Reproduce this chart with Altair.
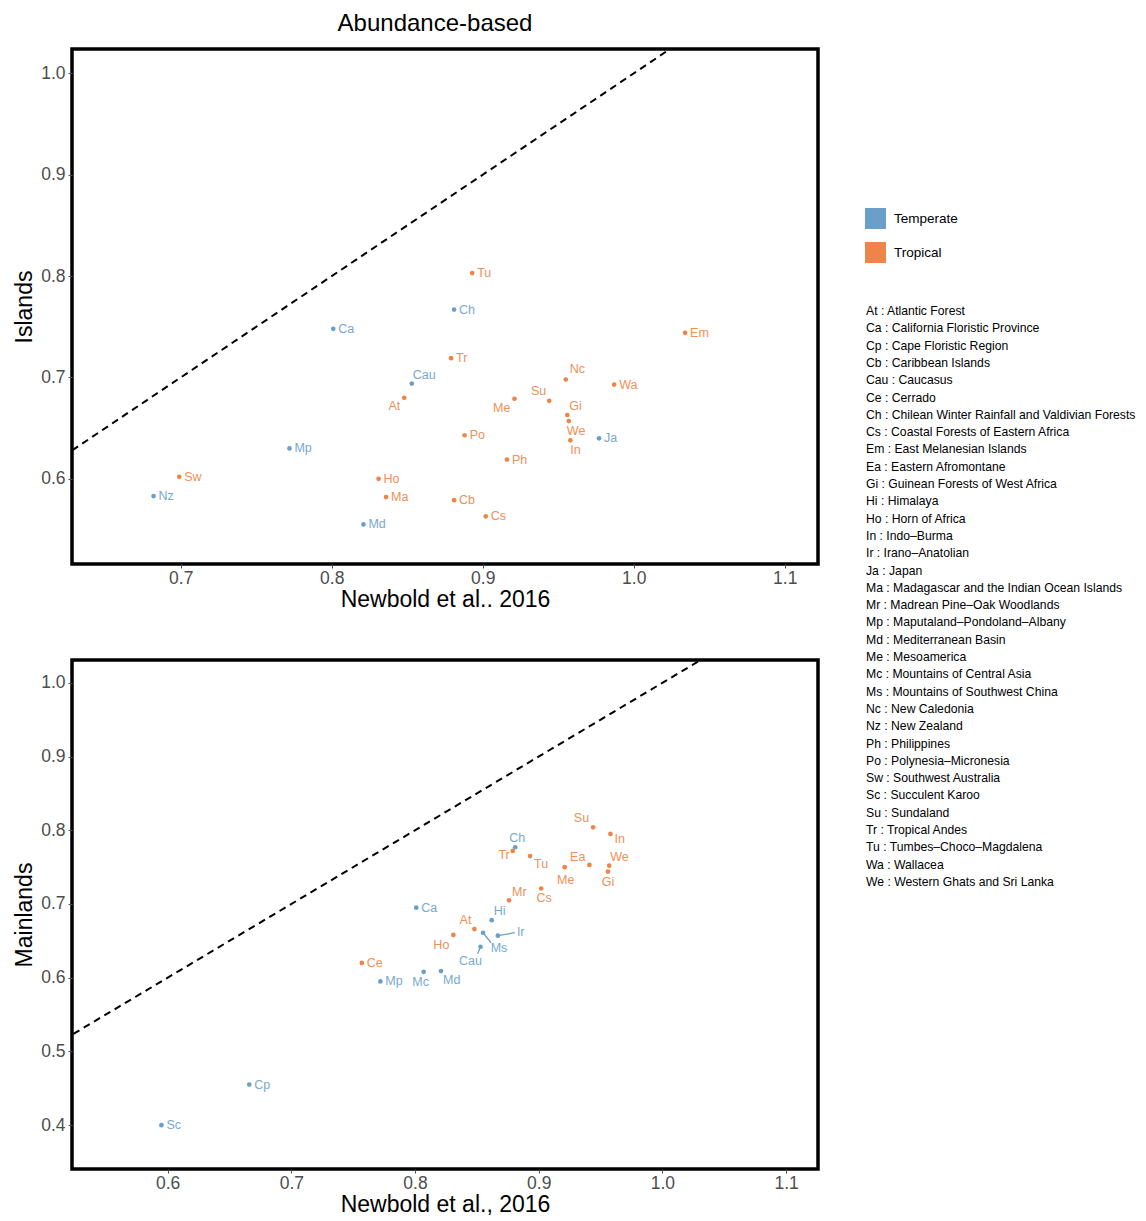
import altair as alt
import pandas as pd

FONT = "Liberation Sans"
BLUE = "#6a9fca"
ORANGE = "#ee8447"

# ---------------- data: Islands (top panel) ----------------
isl_region = ["Tu", "Ch", "Ca", "Tr", "Cau", "At", "Em", "Nc", "Wa", "Me", "Su", "Gi", "We",
              "In", "Ja", "Po", "Ph", "Mp", "Sw", "Nz", "Ho", "Ma", "Cb", "Cs", "Md"]
isl_newbold = [0.893, 0.881, 0.801, 0.879, 0.853, 0.848, 1.034, 0.955, 0.987, 0.921, 0.944, 0.956, 0.957,
               0.958, 0.977, 0.888, 0.916, 0.772, 0.699, 0.682, 0.831, 0.836, 0.881, 0.902, 0.821]
isl_value = [0.803, 0.767, 0.748, 0.719, 0.694, 0.680, 0.744, 0.698, 0.693, 0.679, 0.677, 0.663, 0.657,
             0.638, 0.640, 0.643, 0.619, 0.630, 0.602, 0.583, 0.600, 0.582, 0.579, 0.563, 0.555]
isl_zone = ["Tropical", "Temperate", "Temperate", "Tropical", "Temperate", "Tropical", "Tropical",
            "Tropical", "Tropical", "Tropical", "Tropical", "Tropical", "Tropical", "Tropical",
            "Temperate", "Tropical", "Tropical", "Temperate", "Tropical", "Temperate", "Tropical",
            "Tropical", "Tropical", "Tropical", "Temperate"]

# ---------------- data: Mainlands (bottom panel) ----------------
main_region = ["Sc", "Cp", "Ce", "Mp", "Ca", "Mc", "Md", "Ho", "At", "Hi", "Mr", "Cs", "Ch", "Tr",
               "Tu", "Me", "Ea", "Su", "In", "We", "Gi", "Ms", "Ir", "Cau"]
main_newbold = [0.595, 0.666, 0.757, 0.772, 0.801, 0.807, 0.821, 0.831, 0.848, 0.862, 0.876, 0.902,
                0.881, 0.879, 0.893, 0.921, 0.941, 0.944, 0.958, 0.957, 0.956, 0.855, 0.867, 0.853]
main_value = [0.400, 0.455, 0.620, 0.595, 0.695, 0.608, 0.609, 0.658, 0.666, 0.678, 0.705, 0.721,
              0.777, 0.772, 0.765, 0.750, 0.753, 0.804, 0.795, 0.752, 0.744, 0.661, 0.657, 0.642]
main_zone = ["Temperate", "Temperate", "Tropical", "Temperate", "Temperate", "Temperate", "Temperate",
             "Tropical", "Tropical", "Temperate", "Tropical", "Tropical", "Temperate", "Tropical",
             "Tropical", "Tropical", "Tropical", "Tropical", "Tropical", "Tropical", "Tropical",
             "Temperate", "Temperate", "Temperate"]

# ---------------- abbreviation list ----------------
abbrev_list = [
    "At : Atlantic Forest", "Ca : California Floristic Province", "Cp : Cape Floristic Region",
    "Cb : Caribbean Islands", "Cau : Caucasus", "Ce : Cerrado",
    "Ch : Chilean Winter Rainfall and Valdivian Forests", "Cs : Coastal Forests of Eastern Africa",
    "Em : East Melanesian Islands", "Ea : Eastern Afromontane", "Gi : Guinean Forests of West Africa",
    "Hi : Himalaya", "Ho : Horn of Africa", "In : Indo\u2013Burma", "Ir : Irano\u2013Anatolian",
    "Ja : Japan", "Ma : Madagascar and the Indian Ocean Islands",
    "Mr : Madrean Pine\u2013Oak Woodlands", "Mp : Maputaland\u2013Pondoland\u2013Albany",
    "Md : Mediterranean Basin", "Me : Mesoamerica", "Mc : Mountains of Central Asia",
    "Ms : Mountains of Southwest China", "Nc : New Caledonia", "Nz : New Zealand",
    "Ph : Philippines", "Po : Polynesia\u2013Micronesia", "Sw : Southwest Australia",
    "Sc : Succulent Karoo", "Su : Sundaland", "Tr : Tropical Andes",
    "Tu : Tumbes\u2013Choco\u2013Magdalena", "Wa : Wallacea", "We : Western Ghats and Sri Lanka",
]

# ---------------- label placement (pixel nudges, styling only) ----------------
# (dx, dy, align, leader_dx, leader_dy)
DEFAULT_NUDGE = (5, 0, "left", None, None)
isl_nudge = {
    "Cau": (1, -9, "left", None, None),
    "At": (-4, 8, "right", None, None),
    "Nc": (4, -10, "left", None, None),
    "Me": (-4, 9, "right", None, None),
    "Su": (-3, -10, "right", None, None),
    "Gi": (2, -9, "left", None, None),
    "We": (-2, 10, "left", None, None),
    "In": (0, 10, "left", None, None),
}
main_nudge = {
    "Mc": (-3, 10, "center", None, None),
    "Md": (2, 9, "left", None, None),
    "Ho": (-4, 10, "right", None, None),
    "At": (-3, -9, "right", None, None),
    "Hi": (2, -9, "left", None, None),
    "Mr": (3, -8, "left", None, None),
    "Cs": (3, 9, "center", None, None),
    "Ch": (2, -9, "center", None, None),
    "Tr": (-3, 4, "right", None, None),
    "Tu": (4, 8, "left", None, None),
    "Me": (1, 13, "center", None, None),
    "Ea": (-4, -8, "right", None, None),
    "Su": (-4, -9, "right", None, None),
    "In": (4, 5, "left", None, None),
    "We": (1, -9, "left", None, None),
    "Gi": (0, 10, "center", None, None),
    "Ms": (16, 15, "center", 8, 10),
    "Ir": (19, -4, "left", 17, -3),
    "Cau": (-10, 14, "center", -3, 7),
}

COLOR_SCALE = alt.Scale(domain=["Temperate", "Tropical"], range=[BLUE, ORANGE])
LEGEND = alt.Legend(title=None, orient="none", legendX=793, legendY=159, symbolType="square",
                    symbolSize=441, symbolStrokeWidth=0, symbolOpacity=1, labelFontSize=13.5,
                    labelFont=FONT, labelColor="black", rowPadding=13, labelOffset=8)


def build_df(regions, xs, ys, zones, nudges):
    rows = []
    for r, x, y, z in zip(regions, xs, ys, zones):
        dx, dy, al, lx, ly = nudges.get(r, DEFAULT_NUDGE)
        rows.append(dict(region=r, newbold=x, value=y, zone=z, ndx=dx, ndy=dy, align=al,
                         ldx=lx if lx is not None else 0, ldy=ly if ly is not None else 0,
                         lead=lx is not None))
    return pd.DataFrame(rows)


def panel(df, xdom, ydom, xticks, yticks, ytitle, xtitle, W, H, title=None):
    xspan = xdom[1] - xdom[0]
    yspan = ydom[1] - ydom[0]
    xs = alt.Scale(domain=xdom, nice=False, zero=False)
    ys = alt.Scale(domain=ydom, nice=False, zero=False)
    xax = alt.Axis(values=xticks, format=".1f", title=xtitle, titlePadding=2, labelPadding=1)
    yax = alt.Axis(values=yticks, format=".1f", title=ytitle, titlePadding=4)

    diag = pd.DataFrame({"newbold": [min(xdom[0], ydom[0]), max(xdom[1], ydom[1])]})
    line = alt.Chart(diag).mark_line(color="black", strokeDash=[7, 5], strokeWidth=2, clip=True).encode(
        x=alt.X("newbold:Q", scale=xs, axis=xax),
        y=alt.Y("newbold:Q", scale=ys, axis=yax),
    )

    base = alt.Chart(df).transform_calculate(
        lx=f"datum.newbold + datum.ndx * {xspan} / {W}",
        ly=f"datum.value - datum.ndy * {yspan} / {H}",
        qx=f"datum.newbold + datum.ldx * {xspan} / {W}",
        qy=f"datum.value - datum.ldy * {yspan} / {H}",
    )
    color = alt.Color("zone:N", scale=COLOR_SCALE, legend=LEGEND)

    leaders = base.transform_filter("datum.lead").mark_rule(strokeWidth=1.3).encode(
        x=alt.X("newbold:Q", scale=xs), y=alt.Y("value:Q", scale=ys),
        x2="qx:Q", y2="qy:Q", color=color,
    )
    pts = base.mark_circle(size=22, opacity=1).encode(
        x=alt.X("newbold:Q", scale=xs), y=alt.Y("value:Q", scale=ys), color=color,
    )
    texts = []
    for al in ["left", "center", "right"]:
        texts.append(
            base.transform_filter(f"datum.align == '{al}'").mark_text(
                align=al, baseline="middle", fontSize=12.5, font=FONT, opacity=0.9
            ).encode(
                x=alt.X("lx:Q", scale=xs), y=alt.Y("ly:Q", scale=ys),
                text="region:N", color=color,
            )
        )
    props = dict(width=W, height=H)
    if title is not None:
        props["title"] = title
    return alt.layer(line, leaders, pts, *texts).properties(**props)


isl_df = build_df(isl_region, isl_newbold, isl_value, isl_zone, isl_nudge)
main_df = build_df(main_region, main_newbold, main_value, main_zone, main_nudge)

top = panel(isl_df, [0.628, 1.122], [0.516, 1.024], [0.7, 0.8, 0.9, 1.0, 1.1],
            [0.6, 0.7, 0.8, 0.9, 1.0], "Islands", "Newbold et al.. 2016", 746, 515,
            title=alt.TitleParams("Abundance-based", fontSize=24, font=FONT, fontWeight="normal",
                                  anchor="middle", dx=-10, dy=-7, offset=6, color="black"))
bottom = panel(main_df, [0.5227, 1.1258], [0.3405, 1.031], [0.6, 0.7, 0.8, 0.9, 1.0, 1.1],
               [0.4, 0.5, 0.6, 0.7, 0.8, 0.9, 1.0], "Mainlands", "Newbold et al., 2016", 746, 509)

left = alt.vconcat(top, bottom, spacing=44)

abbrev_df = pd.DataFrame({"entry": abbrev_list, "row": list(range(len(abbrev_list)))})
RH = 1100
row_px = 17.3
first_px = 262
listing = alt.Chart(abbrev_df).mark_text(
    align="left", baseline="middle", fontSize=12.2, font=FONT, color="black"
).encode(
    x=alt.value(0),
    y=alt.Y("row:Q", axis=None,
            scale=alt.Scale(domain=[-first_px / row_px, (RH - first_px) / row_px], reverse=True,
                            nice=False, zero=False)),
    text="entry:N",
).properties(width=250, height=RH, view=alt.ViewConfig(stroke=None))

chart = alt.hconcat(
    left, listing, spacing=46, background="white",
    padding={"left": 3, "top": 2, "right": 0, "bottom": 0},
).resolve_scale(
    x="independent", y="independent", color="shared"
).configure_view(stroke="black", strokeWidth=3.5).configure_axis(
    labelFont=FONT, titleFont=FONT, labelFontSize=17.5, labelColor="#4d4d4d",
    titleFontSize=23, titleFontWeight="normal", titleColor="black",
    tickColor="#4d4d4d", tickSize=4, domain=False, grid=False, labelPadding=3,
)

chart.save("out.html", embed_options={"renderer": "svg", "actions": False})
